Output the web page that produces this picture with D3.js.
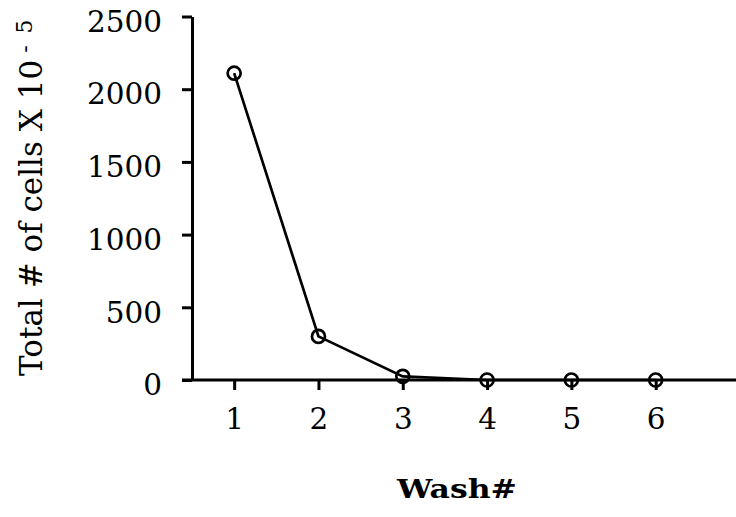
<!DOCTYPE html>
<html><head><meta charset="utf-8">
<script src="https://cdn.jsdelivr.net/npm/d3@7"></script>
<style>
body{margin:0;background:#fff;}
text{font-family:"DejaVu Serif",serif;fill:#000;}
</style></head>
<body><svg id="c" width="736" height="517"></svg>
<script>
const washes = [1, 2, 3, 4, 5, 6];
const cells = [2110, 300, 25, 0, 0, 0];
const yTicks = [0, 500, 1000, 1500, 2000, 2500];

const svg = d3.select("#c");
const x = d3.scaleLinear().domain([0.5, 7]).range([192, 740]);
const y = d3.scaleLinear().domain([0, 2500]).range([380, 16.5]);

// y axis
const ya = svg.append("g").attr("transform", `translate(${x(0.5)},0)`)
  .call(d3.axisLeft(y).tickValues(yTicks).tickSize(10).tickSizeOuter(0).tickPadding(20).tickFormat(d3.format("d")));
ya.select(".domain").attr("stroke-width", 3).attr("stroke","#000");
ya.selectAll(".tick line").attr("stroke-width", 3).attr("stroke","#000");
ya.selectAll(".tick text").attr("font-size", 29.5).attr("font-family", "DejaVu Serif").attr("dy", "0.5em").attr("fill","#000");

// x axis
const xa = svg.append("g").attr("transform", `translate(0,${y(0)})`)
  .call(d3.axisBottom(x).tickValues(washes).tickSize(10).tickSizeOuter(0).tickPadding(18).tickFormat(d3.format("d")));
xa.select(".domain").remove();
xa.append("line").attr("x1", x(0.5) - 10).attr("x2", 736).attr("y1", 0).attr("y2", 0)
  .attr("stroke", "#000").attr("stroke-width", 3);
xa.selectAll(".tick line").attr("stroke-width", 3).attr("stroke","#000");
xa.selectAll(".tick text").attr("font-size", 29.5).attr("font-family", "DejaVu Serif").attr("fill","#000");

// line
const data = washes.map((w, i) => ({w, v: cells[i]}));
svg.append("path").datum(data)
  .attr("d", d3.line().x(d => x(d.w)).y(d => y(d.v)))
  .attr("fill", "none").attr("stroke", "#000").attr("stroke-width", 2.7);
svg.selectAll("circle.pt").data(data).enter().append("circle")
  .attr("class", "pt").attr("cx", d => x(d.w)).attr("cy", d => y(d.v)).attr("r", 6.5)
  .attr("fill", "none").attr("stroke", "#000").attr("stroke-width", 2.7);

// x title
svg.append("text").attr("x", 457).attr("y", 498).attr("text-anchor", "middle")
  .attr("font-size", 26).attr("font-weight", "bold")
  .attr("textLength", 120).attr("lengthAdjust", "spacingAndGlyphs").text("Wash#");

// y title
const yt = svg.append("text").attr("transform", "translate(42,376) rotate(-90)")
  .attr("text-anchor", "start").attr("font-size", 31);
yt.append("tspan").text("Total # of cells X 10");
yt.append("tspan").attr("dy", -10).attr("dx", 7).attr("font-size", 22).text("-");
yt.append("tspan").attr("dx", 12).attr("font-size", 22).text("5");
</script></body></html>
